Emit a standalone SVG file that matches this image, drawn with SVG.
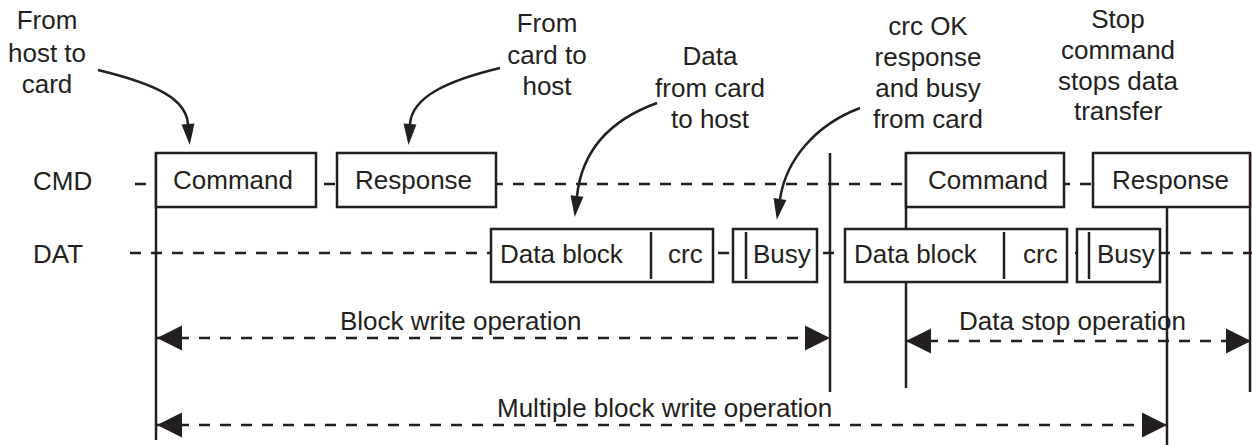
<svg xmlns="http://www.w3.org/2000/svg" width="1252" height="445" viewBox="0 0 1252 445">
<style>
text{font-family:"Liberation Sans",Arial,sans-serif;font-size:26px;fill:#231f20}
.c{text-anchor:middle}
.box{fill:#fff;stroke:#231f20;stroke-width:2.5}
.ln{stroke:#231f20;stroke-width:2.5;fill:none}
.dash{stroke:#231f20;stroke-width:2.5;fill:none;stroke-dasharray:11 10}
.curve{stroke:#231f20;stroke-width:2.5;fill:none;marker-end:url(#ah)}
.op{stroke:#231f20;stroke-width:2.5;fill:none;stroke-dasharray:11 10;marker-start:url(#big);marker-end:url(#big)}
</style>
<defs>
<marker id="ah" markerUnits="userSpaceOnUse" markerWidth="22" markerHeight="14" refX="0" refY="6.5" orient="auto" overflow="visible">
<path d="M0 0 L21 6.5 L0 13 Z" fill="#231f20"/>
</marker>
<marker id="big" markerUnits="userSpaceOnUse" markerWidth="27" markerHeight="26" refX="25" refY="12.5" orient="auto-start-reverse" overflow="visible">
<path d="M0 0 L25 12.5 L0 25 Z" fill="#231f20"/>
</marker>
</defs>
<rect width="1252" height="445" fill="#fff"/>

<g id="signal-lines">
<line class="dash" x1="135" y1="184" x2="1093" y2="184"/>
<line class="dash" x1="130" y1="253" x2="1252" y2="253"/>
</g>

<g id="labels">
<text x="33" y="190">CMD</text>
<text x="33" y="263">DAT</text>
</g>

<g id="markers">
<line class="ln" x1="156" y1="153" x2="156" y2="440"/>
<line class="ln" x1="830" y1="153" x2="830" y2="392"/>
<line class="ln" x1="906" y1="153" x2="906" y2="388"/>
<line class="ln" x1="1167" y1="207" x2="1167" y2="445"/>
<line class="ln" x1="1250" y1="153" x2="1250" y2="392"/>
</g>

<g id="cmd1">
<rect class="box" x="156" y="153" width="160" height="54"/>
<text x="173" y="189">Command</text>
</g>
<g id="resp1">
<rect class="box" x="337" y="153" width="159" height="54"/>
<text x="355" y="189">Response</text>
</g>
<g id="cmd2">
<rect class="box" x="906" y="153" width="158" height="54"/>
<text x="928" y="189">Command</text>
</g>
<g id="resp2">
<rect class="box" x="1093" y="153" width="157" height="54"/>
<text x="1112" y="189">Response</text>
</g>

<g id="data1">
<rect class="box" x="491" y="229" width="222" height="53"/>
<line class="ln" x1="651" y1="232" x2="651" y2="279"/>
<text x="500" y="263">Data block</text>
<text x="668" y="263">crc</text>
</g>
<g id="busy1">
<rect class="box" x="733" y="229" width="84" height="53"/>
<line class="ln" x1="746" y1="232" x2="746" y2="279"/>
<text x="753" y="263">Busy</text>
</g>
<g id="data2">
<rect class="box" x="845" y="229" width="222" height="53"/>
<line class="ln" x1="1004" y1="232" x2="1004" y2="279"/>
<text x="854" y="263">Data block</text>
<text x="1023" y="263">crc</text>
</g>
<g id="busy2">
<rect class="box" x="1077" y="229" width="83" height="53"/>
<line class="ln" x1="1089" y1="232" x2="1089" y2="279"/>
<text x="1097" y="263">Busy</text>
</g>

<g id="note1">
<text class="c" x="47" y="29">From</text>
<text class="c" x="47" y="62">host to</text>
<text class="c" x="47" y="93">card</text>
</g>
<g id="note2">
<text class="c" x="547" y="32">From</text>
<text class="c" x="547" y="64">card to</text>
<text class="c" x="547" y="95">host</text>
</g>
<g id="note3">
<text class="c" x="710" y="65">Data</text>
<text class="c" x="710" y="97">from card</text>
<text class="c" x="710" y="128">to host</text>
</g>
<g id="note4">
<text class="c" x="928" y="35">crc OK</text>
<text class="c" x="928" y="66">response</text>
<text class="c" x="928" y="97">and busy</text>
<text class="c" x="928" y="128">from card</text>
</g>
<g id="note5">
<text class="c" x="1118" y="28">Stop</text>
<text class="c" x="1118" y="59">command</text>
<text class="c" x="1118" y="90">stops data</text>
<text class="c" x="1118" y="120">transfer</text>
</g>

<g id="op-labels">
<text x="340" y="330">Block write operation</text>
<text x="497" y="417">Multiple block write operation</text>
<text x="959" y="330">Data stop operation</text>
</g>

<g id="connectors">
<path class="curve" d="M98 70 C160 85 186 100 188 124"/>
<path class="curve" d="M500 68 C450 80 412 96 410 124"/>
<path class="curve" d="M657 103 C610 120 582 150 577 196"/>
<path class="curve" d="M860 108 C815 125 786 160 780 199"/>
<line class="op" x1="157" y1="338" x2="830" y2="338"/>
<line class="op" x1="157" y1="425" x2="1167" y2="425"/>
<line class="op" x1="906" y1="341" x2="1251" y2="341"/>
</g>
</svg>
